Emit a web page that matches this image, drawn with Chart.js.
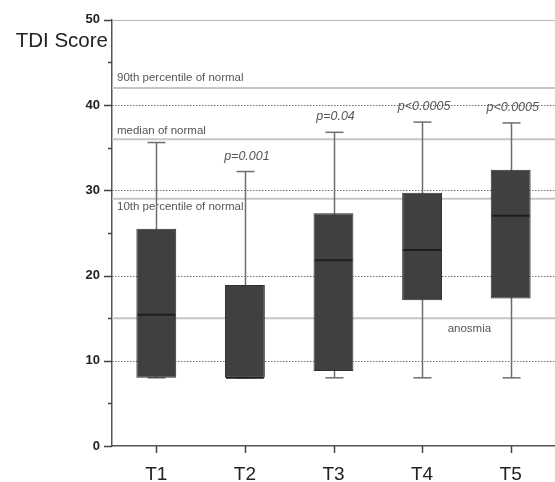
<!DOCTYPE html>
<html>
<head>
<meta charset="utf-8">
<script src="https://cdn.jsdelivr.net/npm/chart.js@4"></script>
<style>
  body { margin: 0; background: #fff; }
  #wrap { width: 555px; height: 482px; }
</style>
</head>
<body>
<div id="wrap"><canvas id="tdi"></canvas></div>
<script>
// box plot data (TDI score per time point)
var categories = ['T1', 'T2', 'T3', 'T4', 'T5'];
var whiskerMin = [8, 8, 8, 8, 8];
var q1 = [8, 8, 8.8, 17.1, 17.3];
var medians = [15.4, 8, 21.8, 23, 27];
var q3 = [25.5, 18.9, 27.3, 29.7, 32.4];
var whiskerMax = [35.6, 32.2, 36.8, 38, 37.9];
var pLabels = ['', 'p=0.001', 'p=0.04', 'p<0.0005', 'p<0.0005'];

// normative reference lines
var refValues = [42, 36, 29, 15];
var refLabels = ['90th percentile of normal', 'median of normal', '10th percentile of normal', 'anosmia'];

var boxes = categories.map(function (c, i) { return [q1[i], q3[i]]; });

function hline(ctx, x1, x2, y) {
    ctx.beginPath(); ctx.moveTo(x1, y); ctx.lineTo(x2, y); ctx.stroke();
}
function vline(ctx, x, y1, y2) {
    ctx.beginPath(); ctx.moveTo(x, y1); ctx.lineTo(x, y2); ctx.stroke();
}

var decor = {
    id: 'decor',
    beforeDatasetsDraw: function (chart) {
        var ctx = chart.ctx, a = chart.chartArea, x = chart.scales.x, y = chart.scales.y;
        ctx.save();
        // dotted grid lines
        ctx.strokeStyle = '#707070';
        ctx.lineWidth = 1;
        ctx.setLineDash([1.5, 1.5]);
        y.ticks.forEach(function (t) {
            if (t.value % 10 === 0 && t.value > 0 && t.value < 50) {
                hline(ctx, a.left, a.right, Math.round(y.getPixelForValue(t.value)) + 0.5);
            }
        });
        ctx.setLineDash([]);
        // top frame line
        ctx.strokeStyle = '#b8b8b8';
        hline(ctx, a.left, a.right, Math.round(y.getPixelForValue(50)) + 0.5);
        // reference lines
        ctx.strokeStyle = '#c6c6c6';
        ctx.lineWidth = 2;
        refValues.forEach(function (v) { hline(ctx, a.left, a.right, y.getPixelForValue(v)); });
        // reference labels
        ctx.fillStyle = '#555';
        ctx.font = '11.5px "Liberation Sans", Arial, sans-serif';
        ctx.textBaseline = 'alphabetic';
        ctx.textAlign = 'left';
        ctx.fillText(refLabels[0], a.left + 5, y.getPixelForValue(refValues[0]) - 7);
        ctx.fillText(refLabels[1], a.left + 5, y.getPixelForValue(refValues[1]) - 5);
        ctx.fillText(refLabels[2], a.left + 5, y.getPixelForValue(refValues[2]) + 11);
        ctx.textAlign = 'center';
        var xMid = (x.getPixelForValue(3) + x.getPixelForValue(4)) / 2;
        ctx.fillText(refLabels[3], xMid + 3, y.getPixelForValue(refValues[3]) + 14);
        // whiskers
        ctx.strokeStyle = '#6e6e6e';
        ctx.lineWidth = 1.5;
        categories.forEach(function (c, i) {
            var px = Math.round(x.getPixelForValue(i)) + 0.5;
            var yTop = y.getPixelForValue(whiskerMax[i]);
            var yBot = y.getPixelForValue(whiskerMin[i]);
            vline(ctx, px, yTop, yBot);
            hline(ctx, px - 9, px + 9, yTop);
            hline(ctx, px - 9, px + 9, yBot);
        });
        ctx.restore();
    },
    afterDatasetsDraw: function (chart) {
        var ctx = chart.ctx, y = chart.scales.y;
        var meta = chart.getDatasetMeta(0);
        ctx.save();
        ctx.strokeStyle = '#1e1e1e';
        ctx.lineWidth = 2;
        meta.data.forEach(function (bar, i) {
            var half = bar.width / 2;
            hline(ctx, bar.x - half + 1, bar.x + half - 1, y.getPixelForValue(medians[i]));
        });
        ctx.restore();
    },
    afterDraw: function (chart) {
        var ctx = chart.ctx, a = chart.chartArea, x = chart.scales.x, y = chart.scales.y;
        ctx.save();
        // tick marks
        ctx.strokeStyle = '#444';
        ctx.lineWidth = 1.5;
        y.ticks.forEach(function (t) {
            var py = Math.round(y.getPixelForValue(t.value)) + 0.5;
            var len = t.value % 10 === 0 ? 8 : 4;
            hline(ctx, a.left - len, a.left, py);
        });
        categories.forEach(function (c, i) {
            var px = Math.round(x.getPixelForValue(i)) + 0.5;
            vline(ctx, px, a.bottom, a.bottom + 7);
        });
        // axis title
        ctx.fillStyle = '#222';
        ctx.font = '20.5px "Liberation Sans", Arial, sans-serif';
        ctx.textAlign = 'right';
        ctx.textBaseline = 'alphabetic';
        ctx.fillText('TDI Score', a.left - 4, 47);
        // significance labels
        ctx.fillStyle = '#555';
        ctx.font = 'italic 12.5px "Liberation Sans", Arial, sans-serif';
        ctx.textAlign = 'center';
        var cap = y.getPixelForValue(40.6);
        categories.forEach(function (c, i) {
            if (!pLabels[i]) return;
            var py = Math.max(y.getPixelForValue(whiskerMax[i]) - 12, cap);
            ctx.fillText(pLabels[i], x.getPixelForValue(i) + 2, py);
        });
        ctx.restore();
    }
};

var chartTdi = new Chart(document.getElementById('tdi').getContext('2d'), {
    type: 'bar',
    data: {
        labels: categories,
        datasets: [{
            label: 'TDI Score',
            data: boxes,
            backgroundColor: '#404040',
            borderColor: '#2e2e2e',
            borderWidth: 1,
            borderSkipped: false,
            barPercentage: 0.45,
            categoryPercentage: 1
        }]
    },
    options: {
        responsive: true,
        maintainAspectRatio: false,
        animation: false,
        layout: { padding: { top: 18, right: 0, left: 0, bottom: 0 } },
        plugins: {
            legend: { display: false },
            tooltip: { enabled: false }
        },
        scales: {
            x: {
                offset: true,
                grid: { display: false, drawTicks: false },
                border: { display: true, color: '#555', width: 1.5 },
                ticks: {
                    padding: 17,
                    color: '#222',
                    font: { family: '"Liberation Sans", Arial, sans-serif', size: 19 }
                },
                afterFit: function (s) { s.height = 36; }
            },
            y: {
                min: 0,
                max: 50,
                grid: { display: false, drawTicks: false },
                border: { display: true, color: '#555', width: 1.5 },
                ticks: {
                    stepSize: 5,
                    padding: 12,
                    color: '#222',
                    font: { family: '"Liberation Sans", Arial, sans-serif', size: 13, weight: 'bold' },
                    callback: function (v) { return v % 10 === 0 ? v : ''; }
                },
                afterFit: function (s) { s.width = 112; }
            }
        }
    },
    plugins: [decor]
});
</script>
</body>
</html>
